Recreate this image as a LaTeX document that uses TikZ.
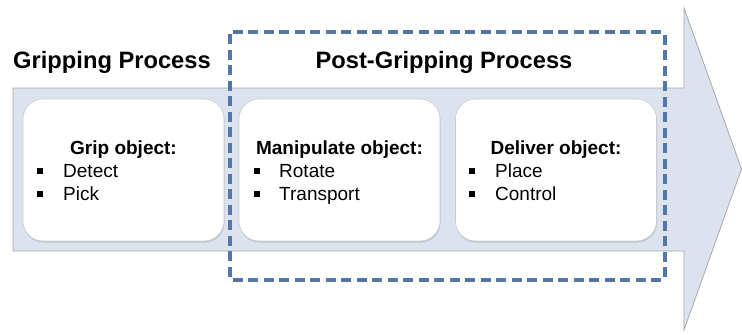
\documentclass[tikz,border=0pt]{standalone}
\usepackage{fontspec}
\setmainfont{Liberation Sans}
\usetikzlibrary{shadows}
\definecolor{arrowfill}{HTML}{DCE3EE}
\definecolor{arrowline}{HTML}{A6A9AE}
\definecolor{dashblue}{HTML}{5577A6}
\definecolor{boxline}{HTML}{C8CCD2}
\tikzset{
  titletext/.style={inner sep=0pt, anchor=base, font=\fontsize{23.7bp}{28bp}\selectfont\bfseries},
  headtext/.style={inner sep=0pt, anchor=base, font=\fontsize{19bp}{23bp}\selectfont\bfseries},
  itemtext/.style={inner sep=0pt, anchor=base west, font=\fontsize{19bp}{23bp}\selectfont},
  stagebox/.style={draw=boxline, fill=white, rounded corners=20bp, line width=0.6bp,
    drop shadow={shadow xshift=0.5bp, shadow yshift=-1.5bp, opacity=0.25, fill=black!60}},
  bulletsq/.style={fill=black, draw=none, minimum size=5.5bp, inner sep=0pt, anchor=center}
}
\begin{document}
\begin{tikzpicture}[x=1bp,y=-1bp]
\useasboundingbox (0,0) rectangle (742,334);
% big arrow
\draw[fill=arrowfill, draw=arrowline, line width=0.8bp, line join=miter]
  (13,88) -- (684,88) -- (684,8) -- (741.5,169) -- (684,330) -- (684,251) -- (13,251) -- cycle;
% stage boxes
\node[stagebox, minimum width=201bp, minimum height=142bp] (b1) at (123.5,170) {};
\node[stagebox, minimum width=201bp, minimum height=142bp] (b2) at (339.5,170) {};
\node[stagebox, minimum width=201bp, minimum height=142bp] (b3) at (556,170) {};
% titles
\node[titletext] (t1) at (112,68) {Gripping Process};
\node[titletext] (t2) at (444,68) {Post-Gripping Process};
% headings
\node[headtext] (h1) at (123.5,154) {Grip object:};
\node[headtext] (h2) at (339.5,154) {Manipulate object:};
\node[headtext] (h3) at (556,154) {Deliver object:};
% items
\foreach \bx/\tx/\ia/\ib/\nm in {40/63/Detect/Pick/a, 257/279/Rotate/Transport/b, 472/495/Place/Control/c}{
  \node[bulletsq] (s1\nm) at (\bx,171) {};
  \node[bulletsq] (s2\nm) at (\bx,194) {};
  \node[itemtext] (i1\nm) at (\tx,177) {\ia};
  \node[itemtext] (i2\nm) at (\tx,200) {\ib};
}
% dashed group
\draw[dashblue, line width=3.4bp, dash pattern=on 10bp off 5.5bp, rounded corners=2bp]
  (230,32) rectangle (665,280);
\end{tikzpicture}
\end{document}
